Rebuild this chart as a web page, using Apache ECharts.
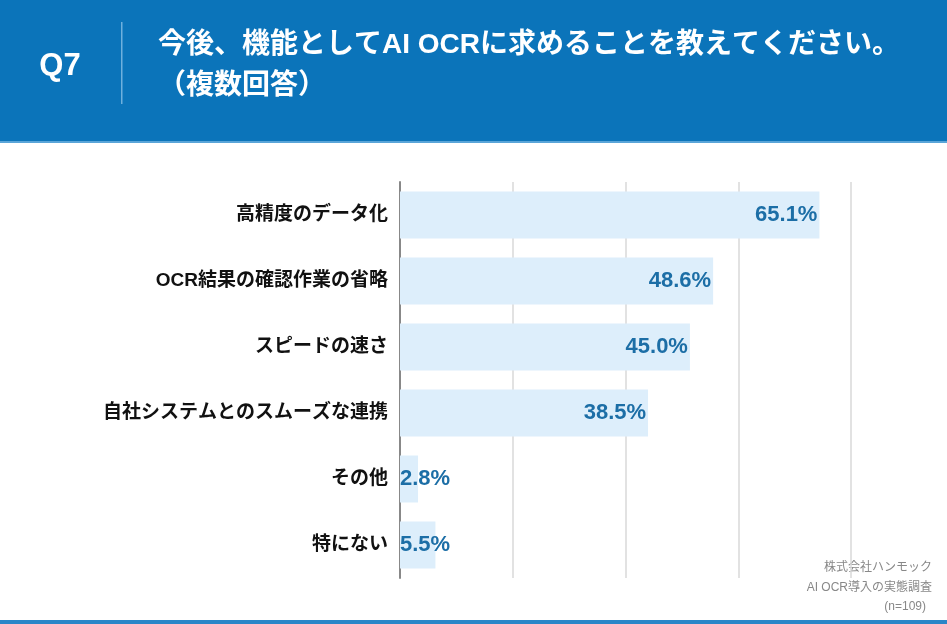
<!DOCTYPE html>
<html><head><meta charset="utf-8">
<script src="https://cdn.jsdelivr.net/npm/echarts@6/dist/echarts.min.js"></script>
<style>html,body{margin:0;padding:0;background:#fff}#c{width:947px;height:624px}</style>
</head><body><div id="c"></div>
<script>
const categories = ['高精度のデータ化','OCR結果の確認作業の省略','スピードの速さ','自社システムとのスムーズな連携','その他','特にない'];
const values = [65.1, 48.6, 45.0, 38.5, 2.8, 5.5];
const axisMax = 70;
const axisInterval = 17.5;
const titleLine1 = '今後、機能としてAI OCRに求めることを教えてください。';
const titleLine2 = '（複数回答）';
const qLabel = 'Q7';
const sourceLines = ['株式会社ハンモック','AI OCR導入の実態調査','(n=109)'];

const FONT = '"Liberation Sans","Noto Sans CJK JP",sans-serif';
const chart = echarts.init(document.getElementById('c'));
chart.setOption({
  animation:false,
  graphic:[
    {type:'rect',shape:{x:0,y:0,width:947,height:141},style:{fill:'#0b74ba'}},
    {type:'rect',shape:{x:0,y:141,width:947,height:2},style:{fill:'#5aa5d8'}},
    {type:'rect',shape:{x:121,y:22,width:1.5,height:82},style:{fill:'#6fb0dd'}},
    {type:'text',x:60,y:66,style:{text:qLabel,fill:'#fff',font:'bold 31px '+FONT,textAlign:'center',textVerticalAlign:'middle'}},
    {type:'text',x:158,y:45,style:{text:titleLine1,fill:'#fff',font:'bold 28px '+FONT,textVerticalAlign:'middle'}},
    {type:'text',x:158,y:86,style:{text:titleLine2,fill:'#fff',font:'bold 28px '+FONT,textVerticalAlign:'middle'}},
    {type:'text',x:932,y:568,style:{text:sourceLines[0],fill:'#888',font:'12px '+FONT,textAlign:'right',textVerticalAlign:'middle'}},
    {type:'text',x:932,y:588,style:{text:sourceLines[1],fill:'#888',font:'12px '+FONT,textAlign:'right',textVerticalAlign:'middle'}},
    {type:'text',x:926,y:607,style:{text:sourceLines[2],fill:'#888',font:'12px '+FONT,textAlign:'right',textVerticalAlign:'middle'}},
    {type:'rect',shape:{x:0,y:620,width:947,height:4},style:{fill:'#2a86c8'}}
  ],
  grid:{left:400,right:96,top:182,bottom:46,containLabel:false},
  xAxis:{type:'value',min:0,max:axisMax,interval:axisInterval,
    axisLabel:{show:false},axisLine:{show:false},axisTick:{show:false},
    splitLine:{show:true,lineStyle:{color:'#d9d9d9',width:1.5}}},
  yAxis:{type:'category',data:categories,inverse:true,
    axisLine:{show:true,lineStyle:{color:'#888',width:2}},axisTick:{show:false},
    axisLabel:{color:'#111',fontWeight:'bold',fontSize:19,margin:12,fontFamily:FONT}},
  series:[{type:'bar',barWidth:47,
    data:values.map(v=>({value:v,label:{position:v<10?'insideLeft':'insideRight',offset:v<10?[-2,0]:[0,0]}})),
    itemStyle:{color:'#ddeefb'},
    label:{show:true,formatter:p=>p.value.toFixed(1)+'%',color:'#1c6ea6',fontWeight:'bold',fontSize:22,fontFamily:FONT,distance:2}
  }]
});
</script></body></html>
